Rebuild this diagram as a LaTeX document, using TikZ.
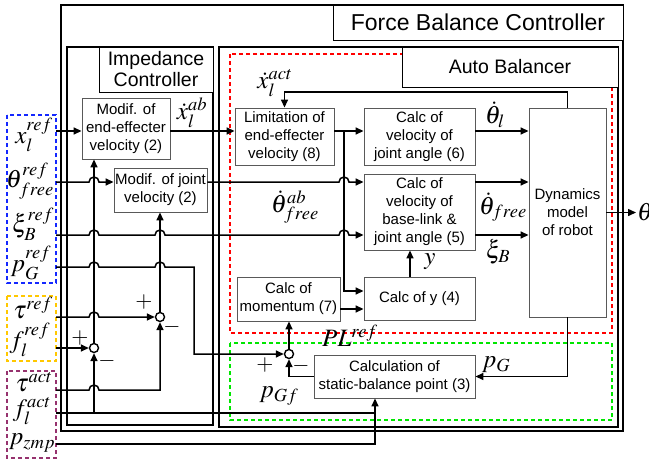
\documentclass[tikz,border=0pt]{standalone}
\usepackage{mathptmx}
\usepackage{fontspec}
\setmainfont{Liberation Sans}
\usetikzlibrary{arrows.meta,calc}
\definecolor{dblue}{RGB}{20,40,255}
\definecolor{dyel}{RGB}{255,200,0}
\definecolor{dpur}{RGB}{150,50,110}
\definecolor{dred}{RGB}{255,0,0}
\definecolor{dgrn}{RGB}{0,230,0}
\newcommand{\hop}[2]{-- ($(#1 |- #2)+(-5,0)$) arc[start angle=180,end angle=0,radius=5pt]}
\tikzset{
  blk/.style={draw=black!65,line width=0.9pt,align=center,inner sep=1pt,font=\fontsize{15}{18}\selectfont},
  ttl/.style={draw=black,line width=1pt,fill=white,align=center,inner sep=1pt},
  frm/.style={draw=black,line width=1.1pt},
  wire/.style={line width=1.5pt},
  sig/.style={wire,-{Triangle[length=8pt,width=7pt]}},
  sum/.style={circle,draw,fill=white,line width=1.4pt,minimum size=9pt,inner sep=0pt},
  lbl/.style={inner sep=0pt,font=\fontsize{25}{28}\selectfont},
  sgn/.style={inner sep=0pt,font=\fontsize{22}{22}\selectfont},
  dsh/.style={line width=1.2pt,dash pattern=on 4pt off 3pt}
}
\begin{document}
\begin{tikzpicture}[x=1pt,y=-1pt]
  \useasboundingbox (0,0) rectangle (649,464);
  \draw[frm] (61,5) rectangle (623,431);
  \draw[frm] (67,47) rectangle (213,425);
  \draw[frm] (219,47) rectangle (618,427);
  \draw[dsh,dred] (230,54) rectangle (612,333);
  \draw[dsh,dgrn] (230,343) rectangle (612,420);
  \draw[dsh,dblue] (7,115) rectangle (56,283);
  \draw[dsh,dyel] (7,296) rectangle (56,361);
  \draw[dsh,dpur] (7,371) rectangle (56,458);
  \node[ttl,minimum width=290pt,minimum height=35pt,font=\fontsize{23}{26}\selectfont] (tfbc) at (478,22.5) {Force Balance Controller};
  \node[ttl,minimum width=114pt,minimum height=45pt,font=\fontsize{19.5}{21}\selectfont] (timp) at (156,69.5) {Impedance\\Controller};
  \node[ttl,minimum width=216pt,minimum height=40pt,font=\fontsize{19.5}{22}\selectfont] (tab) at (510,67) {Auto Balancer};

  \node[blk,minimum width=88pt,minimum height=61pt] (mee) at (126,128.5) {Modif. of\\end-effecter\\velocity (2)};
  \node[blk,minimum width=93pt,minimum height=44pt] (mjv) at (160.5,190) {Modif. of joint\\velocity (2)};
  \node[blk,minimum width=99pt,minimum height=57pt] (lim) at (284.5,136.5) {Limitation of\\end-effecter\\velocity (8)};
  \node[blk,minimum width=111pt,minimum height=57pt] (cvj) at (419.5,136.5) {Calc of\\velocity of\\joint angle (6)};
  \node[blk,minimum width=111pt,minimum height=76pt] (cvb) at (419.5,212) {Calc of\\velocity of\\base-link \&\\joint angle (5)};
  \node[blk,minimum width=77pt,minimum height=209pt] (dyn) at (567.5,212.5) {Dynamics\\model\\of robot};
  \node[blk,minimum width=103pt,minimum height=44pt] (cmo) at (288.5,299) {Calc of\\momentum (7)};
  \node[blk,minimum width=111pt,minimum height=43pt] (cy) at (419.5,298.5) {Calc of y (4)};
  \node[blk,minimum width=161pt,minimum height=43pt] (csb) at (394.5,376.5) {Calculation of\\static-balance point (3)};
  \node[sum] (s1) at (94,348) {};
  \node[sum] (s2) at (160,317) {};
  \node[sum] (s3) at (289,354) {};

  \coordinate (in-x) at (56,131);
  \coordinate (in-th) at (56,182);
  \coordinate (in-xi) at (56,235);
  \coordinate (in-pg) at (56,267);
  \coordinate (in-tr) at (56,317);
  \coordinate (in-fr) at (56,348);
  \coordinate (in-ta) at (56,390);
  \coordinate (in-fa) at (56,413);
  \coordinate (in-pz) at (56,444);
  \coordinate (vC) at (344,131);
  \coordinate (vD) at ($(csb.south)+(-19.5,0)$);
  \coordinate (bpg) at (194,267);
  \coordinate (fb) at (568,92);
  \coordinate (cya) at ($(cy.west)+(0,-7.5)$);
  \coordinate (cyb) at ($(cy.west)+(0,10.5)$);
  \coordinate (out) at (636,212.5);

  \draw[sig] (in-x) -- (mee.west |- in-x);
  \draw[sig] (mee.east |- in-x) -- (lim.west |- in-x);
  \draw[sig] (lim.east |- in-x) -- (cvj.west |- in-x);
  \draw[sig] (cvj.east |- in-x) -- (dyn.west |- in-x);
  \draw[sig] (in-th) \hop{s1}{in-th} -- (mjv.west |- in-th);
  \draw[sig] (mjv.east |- in-th) \hop{vC}{in-th} -- (cvb.west |- in-th);
  \draw[sig] (cvb.east |- in-th) -- (dyn.west |- in-th);
  \draw[sig] (in-xi) \hop{s1}{in-xi} \hop{s2}{in-xi} \hop{vC}{in-xi} -- (cvb.west |- in-xi);
  \draw[sig] (cvb.east |- in-xi) -- (dyn.west |- in-xi);
  \draw[sig] (in-pg) \hop{s1}{in-pg} \hop{s2}{in-pg} -- (bpg) |- (s3.west);
  \draw[sig] (in-tr) \hop{s1}{in-tr} -- (s2.west);
  \draw[sig] (in-fr) -- (s1.west);
  \draw[sig] (in-ta) \hop{s1}{in-ta} -| (s2.south);
  \draw[wire] (in-fa) -- (vD |- in-fa);
  \draw[sig] (s1 |- in-fa) -- (s1.south);
  \draw[sig] (in-pz) -| (vD);
  \draw[sig] (s1.north) -- (s1 |- mee.south);
  \draw[sig] (s2.north) -- (s2 |- mjv.south);
  \draw[sig] (vC) |- (cya);
  \draw[sig] (cmo.east |- cyb) -- (cyb);
  \draw[sig] ($(cy.north)+(-9.5,0)$) -- ($(cvb.south)+(-9.5,0)$);
  \draw[sig] (dyn.east) -- (out);
  \draw[sig] (dyn.north) -- (dyn.north |- fb) -| (lim.north);
  \draw[sig] (dyn.south) |- (csb.east);
  \draw[sig] (csb.west) -| (s3.south);
  \draw[sig] (s3.north) -- (s3 |- cmo.south);

  \node[lbl] (lxr) at (34,135) {$x_l^{ref}$};
  \node[lbl] (lthr) at (30,181) {$\theta_{free}^{ref}$};
  \node[lbl] (lxir) at (33,224) {$\xi_B^{ref}$};
  \node[lbl] (lpgr) at (31,263) {$p_G^{ref}$};
  \node[lbl] (ltr) at (33,308) {$\tau^{ref}$};
  \node[lbl] (lfr) at (30,340) {$f_l^{ref}$};
  \node[lbl] (lta) at (34,382) {$\tau^{act}$};
  \node[lbl] (lfa) at (32,411) {$f_l^{act}$};
  \node[lbl] (lpz) at (32,443) {$p_{zmp}$};
  \node[lbl] (lxab) at (192,113) {$\dot{x}_l^{ab}$};
  \node[lbl] (lthab) at (295,207) {$\dot{\theta}_{free}^{ab}$};
  \node[lbl] (lxact) at (275,83) {$\dot{x}_l^{act}$};
  \node[lbl] (lthl) at (495,115) {$\dot{\theta}_l$};
  \node[lbl] (lthf) at (503,207) {$\dot{\theta}_{free}$};
  \node[lbl] (lxib) at (498,252) {$\xi_B$};
  \node[lbl] (ly) at (430,262) {$y$};
  \node[lbl] (lpl) at (350,336) {$PL^{ref}$};
  \node[lbl] (lpg) at (496,365) {$p_G$};
  \node[lbl] (lpgf) at (279,396) {$p_{Gf}$};
  \node[lbl,anchor=west] (lth) at (637,212) {$\theta$};
  \node[sgn] (p1) at (80,338) {$+$};
  \node[sgn] (m1) at (107,361) {$-$};
  \node[sgn] (p2) at (144,302) {$+$};
  \node[sgn] (m2) at (172,327) {$-$};
  \node[sgn] (p3) at (265,365) {$+$};
  \node[sgn] (m3) at (301,366) {$-$};
\end{tikzpicture}
\end{document}
